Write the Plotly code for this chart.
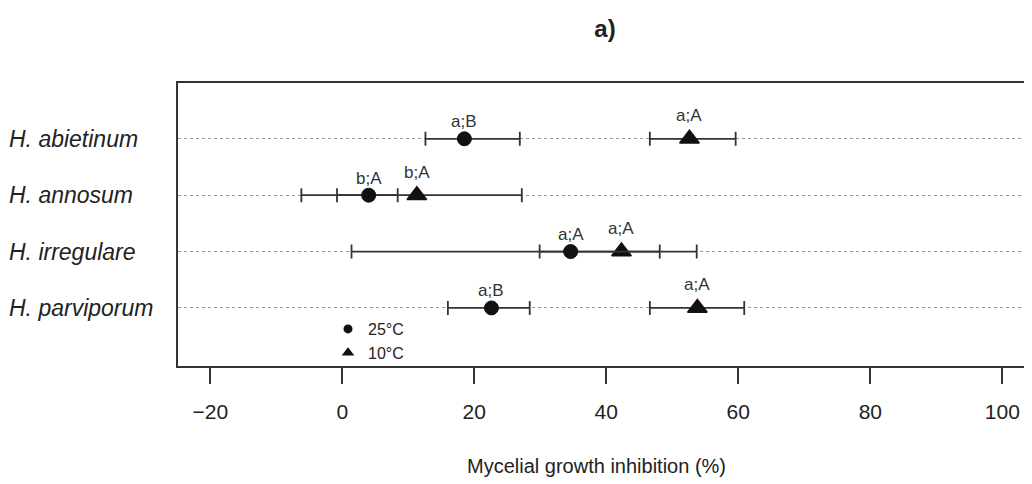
import plotly.graph_objects as go

# ---- data ----
species = ["H. abietinum", "H. annosum", "H. irregulare", "H. parviporum"]
ypos = [4, 3, 2, 1]

mean_25 = [18.5, 4.0, 34.6, 22.6]
low_25 = [12.6, -0.8, 1.4, 16.0]
high_25 = [26.9, 8.4, 48.1, 28.4]
lab_25 = ["a;B", "b;A", "a;A", "a;B"]

mean_10 = [52.6, 11.3, 42.3, 53.8]
low_10 = [46.6, -6.2, 29.9, 46.6]
high_10 = [59.6, 27.2, 53.7, 60.9]
lab_10 = ["a;A", "b;A", "a;A", "a;A"]

x_ticks = [-20, 0, 20, 40, 60, 80, 100]

FONT = "Liberation Sans, Arial, sans-serif"
INK = "#222222"
LINE = "#333333"

# the page body has an 8px default margin; the figure is sized to fit it
W, H, OFF = 1024, 476, 8
PLOT_L, PLOT_T, PLOT_B = 178, 83, 366
PLOT_W = 1032 - PLOT_L
PLOT_H = PLOT_B - PLOT_T

fig = go.Figure()


def add_series(mean, low, high, symbol, size, lw):
    fig.add_trace(go.Scatter(
        x=mean, y=ypos, mode="markers", showlegend=False,
        marker=dict(symbol=symbol, size=size, color="#111111",
                    line=dict(color="#111111", width=lw)),
        error_x=dict(type="data", symmetric=False,
                     array=[h - m for h, m in zip(high, mean)],
                     arrayminus=[m - l for m, l in zip(mean, low)],
                     color=LINE, thickness=1.8, width=7),
        hoverinfo="skip",
    ))


add_series(mean_10, low_10, high_10, "triangle-up", 17, 1.5)
add_series(mean_25, low_25, high_25, "circle", 14, 1)

# legend-only entries
fig.add_trace(go.Scatter(x=[None], y=[None], mode="markers", name="25°C",
                         marker=dict(symbol="circle", size=9, color="#111111")))
fig.add_trace(go.Scatter(x=[None], y=[None], mode="markers", name="10°C",
                         marker=dict(symbol="triangle-up", size=11, color="#111111")))

annotations = []
for x, y, t in zip(mean_25, ypos, lab_25):
    annotations.append(dict(x=x, y=y, xref="x", yref="y", text=t, showarrow=False,
                            yshift=17, yanchor="middle",
                            font=dict(family=FONT, size=17, color=LINE)))
for x, y, t in zip(mean_10, ypos, lab_10):
    annotations.append(dict(x=x, y=y, xref="x", yref="y", text=t, showarrow=False,
                            yshift=23, yanchor="middle",
                            font=dict(family=FONT, size=17, color=LINE)))
# species labels (left aligned)
for y, s in zip(ypos, species):
    annotations.append(dict(x=(7 - PLOT_L) / PLOT_W, y=y, xref="paper", yref="y", text=s,
                            showarrow=False, xanchor="left", yanchor="middle",
                            font=dict(family=FONT, size=23, color=INK, style="italic")))
# x-axis title
annotations.append(dict(x=(596 - PLOT_L) / PLOT_W, y=(PLOT_B - 466) / PLOT_H,
                        xref="paper", yref="paper", text="Mycelial growth inhibition (%)",
                        showarrow=False, xanchor="center", yanchor="middle",
                        font=dict(family=FONT, size=20, color=INK)))

fig.update_layout(
    width=W, height=H,
    margin=dict(l=PLOT_L - OFF, r=0, t=PLOT_T - OFF, b=H - (PLOT_B - OFF)),
    paper_bgcolor="white", plot_bgcolor="white",
    title=dict(text="<b>a)</b>", x=(605 - OFF) / W, xref="container", xanchor="center",
               y=1 - (29 - OFF) / H, yref="container", yanchor="middle",
               font=dict(family=FONT, size=24, color=INK)),
    xaxis=dict(range=[-24.89, 104.5], tickmode="array", tickvals=x_ticks,
               showgrid=False, zeroline=False,
               showline=True, linecolor=LINE, linewidth=2, mirror=True,
               ticks="outside", ticklen=16, tickwidth=2, tickcolor=LINE,
               ticklabelstandoff=10,
               tickfont=dict(family=FONT, size=21, color=INK)),
    yaxis=dict(range=[-0.03, 4.99], tickmode="array", tickvals=ypos,
               showticklabels=False, ticks="",
               showgrid=True, gridcolor="#9a9a9a", gridwidth=1, griddash="dot",
               zeroline=False,
               showline=True, linecolor=LINE, linewidth=2, mirror=False),
    legend=dict(x=(328 - PLOT_L) / PLOT_W, y=(PLOT_B - 312) / PLOT_H,
                xanchor="left", yanchor="top",
                bgcolor="rgba(0,0,0,0)", borderwidth=0, itemwidth=30,
                font=dict(family=FONT, size=16, color=INK)),
    annotations=annotations,
)

fig.write_html("out.html")
